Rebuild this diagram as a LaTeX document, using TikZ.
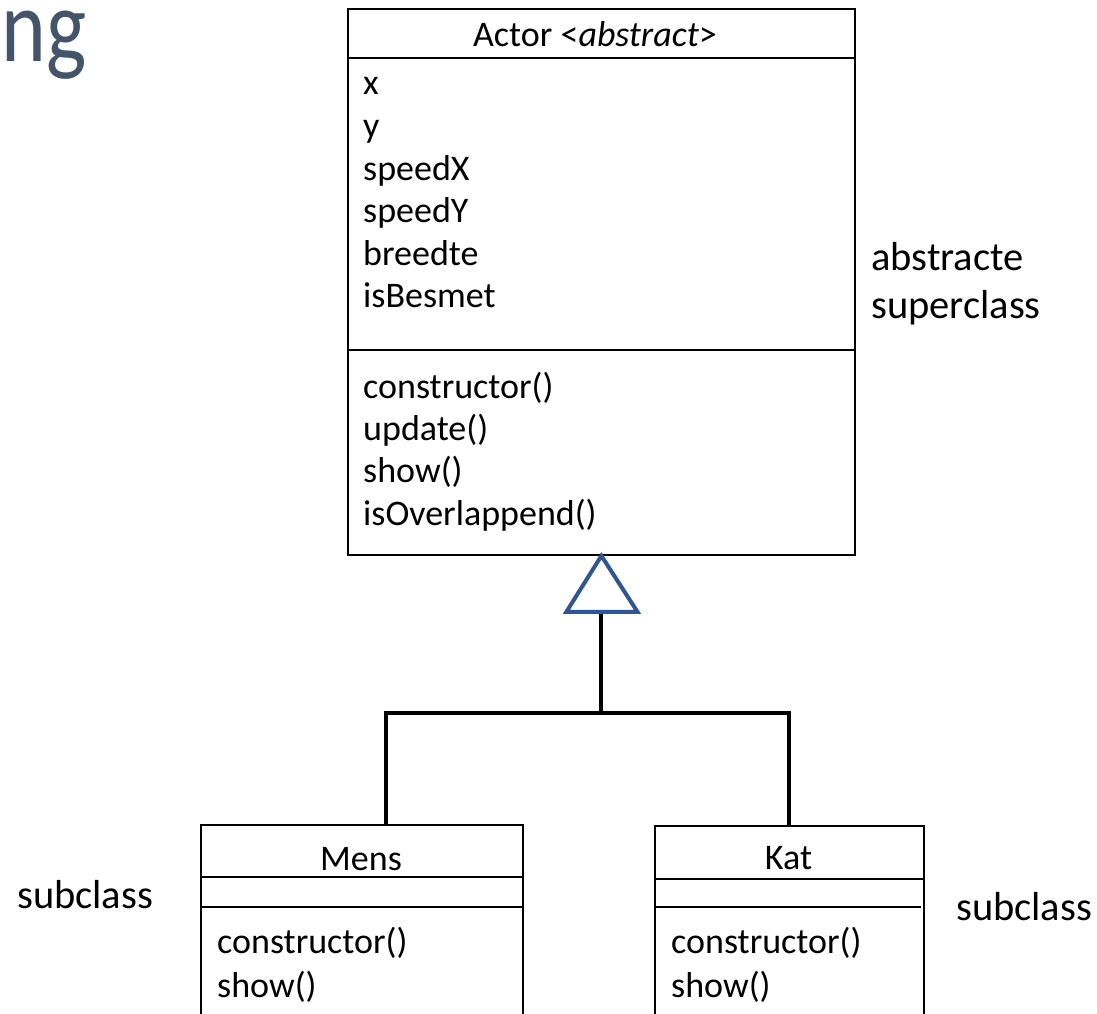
\documentclass[tikz,border=0pt]{standalone}
\usepackage{fontspec}
\setmainfont{Carlito}
\definecolor{titlegray}{RGB}{68,84,106}
\definecolor{umlblue}{RGB}{47,85,151}
\tikzset{
  umlbox/.style={draw=black, line width=1.8pt, anchor=north west, inner sep=0pt},
  sep/.style={draw=black, line width=1.8pt},
  txt/.style={inner sep=0pt, anchor=base west, font=\fontsize{36}{43}\selectfont},
  ctxt/.style={inner sep=0pt, anchor=base, font=\fontsize{36}{43}\selectfont},
  note/.style={inner sep=0pt, anchor=base west, font=\fontsize{40.5}{48}\selectfont},
  gen/.style={draw=black, line width=4pt, line join=miter},
  tri/.style={draw=umlblue, line width=4pt, fill=white, line join=miter}
}
\begin{document}
\begin{tikzpicture}[x=1pt, y=-1pt]
\useasboundingbox (0,0) rectangle (1097,1014);
\clip (0,0) rectangle (1097,1014);

% title fragment
\node[inner sep=0pt, anchor=base east, text=titlegray, text height=50pt, text depth=18pt,
      font=\fontsize{104}{120}\selectfont] (title) at (87,62) {\scalebox{0.82}[1]{ng}};

% superclass
\node[umlbox, minimum width=507pt, minimum height=546pt] (actor) at (347,8) {};
\draw[sep] (347,58) -- (854,58);
\draw[sep] (347,350) -- (854,350);
\node[ctxt] (actorname) at (595,47) {Actor <\textit{abstract}>};
\node[txt] (a1) at (363,95) {x};
\node[txt] (a2) at (363,137.5) {y};
\node[txt] (a3) at (363,180) {speedX};
\node[txt] (a4) at (363,222.5) {speedY};
\node[txt] (a5) at (363,265) {breedte};
\node[txt] (a6) at (363,307.5) {isBesmet};
\node[txt] (m1) at (363,398) {constructor()};
\node[txt] (m2) at (363,440) {update()};
\node[txt] (m3) at (363,482) {show()};
\node[txt] (m4) at (363,525) {isOverlappend()};

% subclasses
\node[umlbox, minimum width=322pt, minimum height=230pt] (mens) at (200,824) {};
\draw[sep] (200,877) -- (522,877);
\draw[sep] (200,907) -- (522,907);
\node[ctxt] (mensname) at (361,870) {Mens};
\node[txt] (mens1) at (217,953) {constructor()};
\node[txt] (mens2) at (217,997) {show()};

\node[umlbox, minimum width=269pt, minimum height=230pt] (kat) at (654,825) {};
\draw[sep] (654,879) -- (923,879);
\draw[sep] (654,907) -- (921,907);
\node[ctxt] (katname) at (788.5,869) {Kat};
\node[txt] (kat1) at (671,953) {constructor()};
\node[txt] (kat2) at (671,997) {show()};

% generalisation
\coordinate (tribase) at ([yshift=-56pt]actor.south);
\coordinate (junction) at ([yshift=-101pt]tribase);
\draw[gen] (tribase) -- (junction);
\draw[gen] ([xshift=24pt]mens.north) |- (junction) -| (kat.north);
\draw[tri] (actor.south) -- ++(-35,56) -- ++(71,0) -- cycle;

% side labels
\node[note] (lab1) at (871,270) {abstracte};
\node[note] (lab2) at (871,318) {superclass};
\node[note] (lab3) at (17,908) {subclass};
\node[note] (lab4) at (956,920) {subclass};
\end{tikzpicture}
\end{document}
